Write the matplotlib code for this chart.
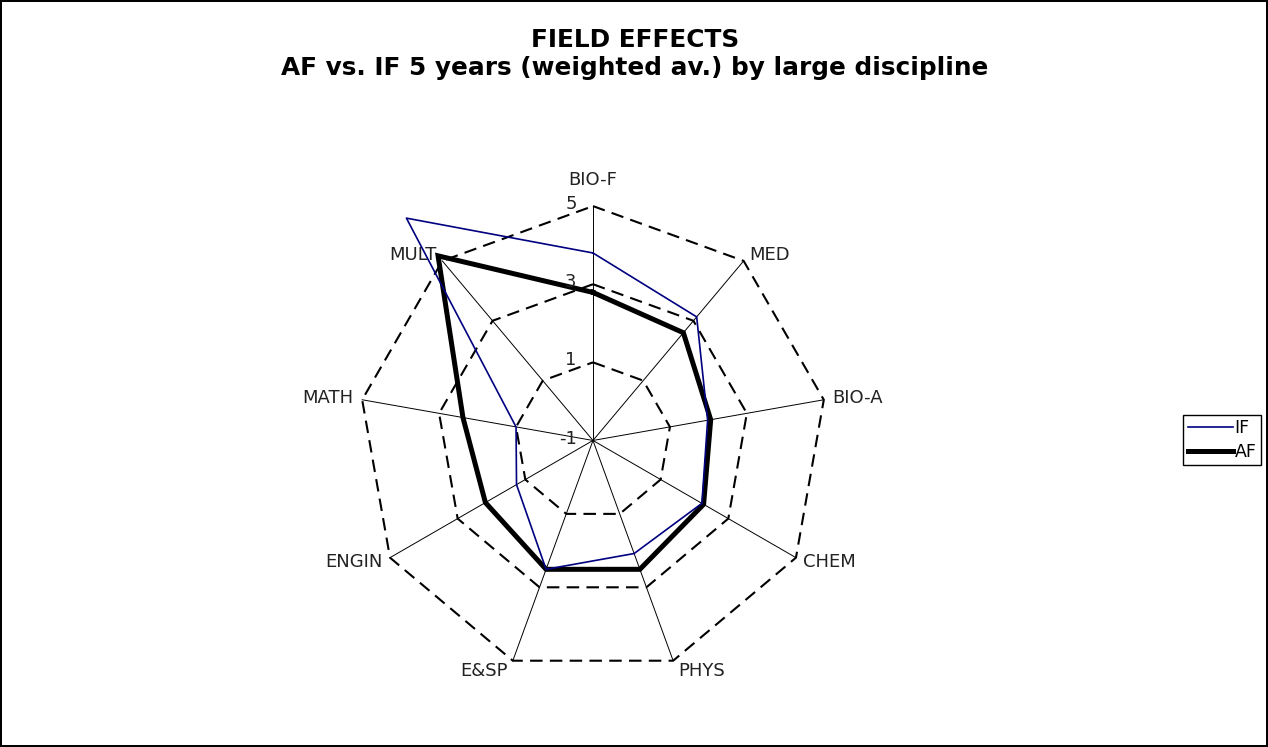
import numpy as np
import matplotlib
matplotlib.use('Agg')
import matplotlib.pyplot as plt

categories = ['BIO-F', 'MED', 'BIO-A', 'CHEM', 'PHYS', 'E&SP', 'ENGIN', 'MATH', 'MULT']
if_values = [3.80, 3.13, 1.98, 2.22, 2.08, 2.51, 1.26, 1.00, 6.43]
af_values = [2.79, 2.60, 2.06, 2.27, 2.51, 2.51, 2.18, 2.38, 5.17]
ring_values = [1, 3, 5]
ring_labels = ['-1', '1', '3', '5']
r_min = -1
r_max = 5

n = len(categories)
angles = np.deg2rad(90 - 360.0 / n * np.arange(n))


def to_xy(vals):
    r = np.asarray(vals, dtype=float) - r_min
    return r * np.cos(angles), r * np.sin(angles)


fig = plt.figure(figsize=(12.68, 7.47), dpi=100)
fig.patch.set_edgecolor('black')
fig.patch.set_linewidth(1.5)

ax = fig.add_axes([0.2366, 0.0181, 0.4621, 0.7845])
ax.set_xlim(-7.5, 7.5)
ax.set_ylim(-7.5, 7.5)
ax.set_aspect('equal')
ax.axis('off')

# spokes
rmax = r_max - r_min
for a in angles:
    ax.plot([0, rmax * np.cos(a)], [0, rmax * np.sin(a)], color='black', lw=0.7, zorder=1)

# dashed polygon rings
for v in ring_values:
    x, y = to_xy([v] * n)
    ax.plot(np.append(x, x[0]), np.append(y, y[0]), color='black', lw=1.5,
            dashes=(6, 3.5), zorder=1)

# scale labels along the top spoke
for lab in ring_labels:
    r = float(lab) - r_min
    ax.text(-0.42, r + 0.05, lab, ha='right', va='center', fontsize=13, color='#222222')

# category labels
for a, lab in zip(angles, categories):
    c, s = np.cos(a), np.sin(a)
    if abs(c) < 0.1:
        ha = 'center'
    elif c > 0:
        ha = 'left'
    else:
        ha = 'right'
    if s > 0.9:
        va, px, py = 'bottom', 0, 0.45
    elif s < -0.8:
        va, px, py = 'top', 0.13 * np.sign(c), -0.03
    else:
        va, px, py = 'center', 0.22 * c, 0.2 * s
    ax.text(rmax * c + px, rmax * s + py, lab, ha=ha, va=va, fontsize=13, color='#222222')

# series
x, y = to_xy(if_values)
ax.plot(np.append(x, x[0]), np.append(y, y[0]), color='#000080', lw=1.2,
        label='IF', zorder=3, clip_on=False)
x, y = to_xy(af_values)
ax.plot(np.append(x, x[0]), np.append(y, y[0]), color='black', lw=3.6,
        label='AF', zorder=2, clip_on=False, solid_joinstyle='miter')

fig.text(0.5008, 0.9375, 'FIELD EFFECTS', ha='center', va='baseline',
         fontsize=17.8, fontweight='bold')
fig.text(0.5008, 0.8996, 'AF vs. IF 5 years (weighted av.) by large discipline', ha='center',
         va='baseline', fontsize=17.8, fontweight='bold')

leg = fig.legend(loc='center', bbox_to_anchor=(0.9637, 0.4110), fontsize=12.5,
                 handlelength=2.6, handletextpad=0.1, borderpad=0.25, labelspacing=0.35,
                 fancybox=False, edgecolor='black', framealpha=1, borderaxespad=0)
leg.get_frame().set_linewidth(1.0)

fig.savefig('out.png', dpi=100, edgecolor=fig.get_edgecolor())
